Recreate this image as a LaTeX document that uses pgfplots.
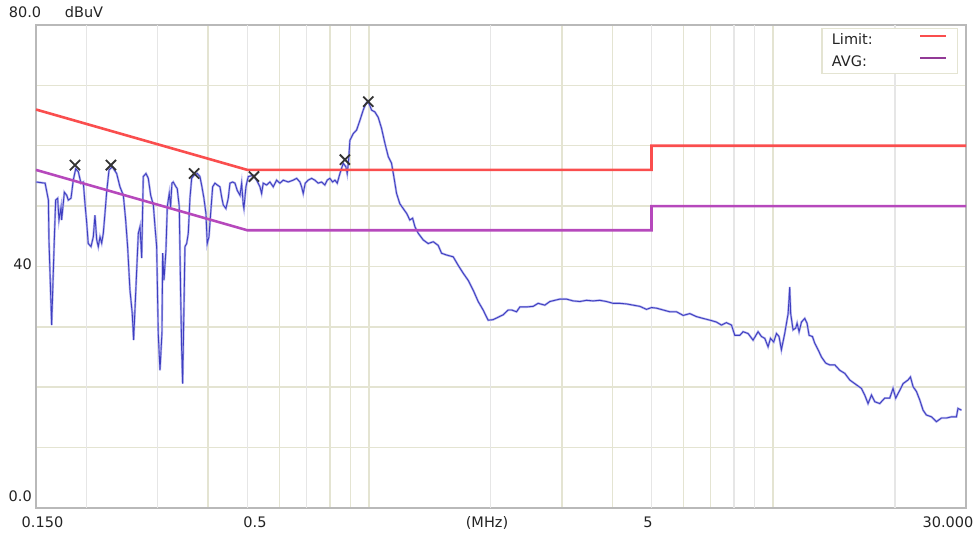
\documentclass[border=0pt]{standalone}
\usepackage{pgfplots}
\pgfplotsset{compat=1.18}
\usepackage{pgfplotstable}
\usepackage{fontspec}
\setmainfont{DejaVu Sans}

\definecolor{gridbeige}{RGB}{228,228,210}
\definecolor{gridgray}{RGB}{230,230,230}
\definecolor{framegray}{RGB}{185,185,185}
\definecolor{tracecol}{RGB}{62,62,192}
\definecolor{tracehalo}{RGB}{180,180,238}
\definecolor{limitred}{RGB}{250,78,78}
\definecolor{avgpurple}{RGB}{182,72,188}
\definecolor{labelgray}{RGB}{35,35,35}

% conducted emission scan: frequency (MHz), level (dBuV)
\pgfplotstableread{
f dB
0.150 54.0
0.158 53.8
0.161 51.0
0.1615 44.4
0.164 30.3
0.1665 44.4
0.1678 51.0
0.1697 51.3
0.171 47.7
0.173 49.8
0.1736 47.7
0.1763 52.3
0.1787 51.8
0.1803 51.0
0.1831 51.3
0.1855 54.3
0.1881 56.2
0.1909 55.7
0.1938 53.8
0.1964 54.0
0.1983 50.4
0.2000 47.7
0.2020 43.8
0.2052 43.3
0.2079 44.9
0.2099 48.5
0.2120 44.4
0.2139 43.3
0.2160 44.9
0.2181 43.9
0.2201 45.5
0.2222 48.8
0.2244 52.4
0.2274 56.0
0.2317 56.5
0.2375 55.4
0.2420 53.2
0.2467 51.8
0.2500 47.7
0.2528 43.3
0.2562 36.1
0.2595 32.3
0.2616 27.8
0.2647 35.6
0.2687 45.5
0.2713 46.6
0.2739 41.4
0.2764 54.9
0.2807 55.4
0.2844 54.6
0.2883 51.8
0.2927 50.2
0.2955 46.6
0.2983 43.3
0.3010 28.9
0.3040 22.8
0.3074 29.0
0.3087 42.2
0.3110 37.7
0.3145 42.7
0.3169 49.9
0.3205 52.1
0.3230 49.9
0.3254 53.8
0.3278 54.0
0.3330 53.2
0.3354 52.9
0.3393 49.9
0.3420 35.5
0.3440 26.2
0.3459 20.6
0.3485 33.3
0.3505 43.3
0.3539 43.8
0.3572 45.5
0.3606 51.3
0.3641 54.6
0.3689 55.1
0.3759 55.4
0.3817 54.9
0.3861 53.2
0.3905 51.3
0.3950 48.8
0.3980 43.8
0.4018 44.9
0.4057 48.8
0.4104 53.2
0.4158 53.8
0.4213 53.5
0.4278 53.2
0.4320 51.5
0.4359 50.2
0.4426 49.6
0.4485 51.3
0.4529 53.8
0.4599 54.0
0.4660 53.8
0.4721 52.6
0.4795 51.8
0.4841 53.8
0.4885 50.2
0.4904 49.6
0.4960 53.2
0.5026 54.9
0.5171 55.1
0.5272 54.3
0.5372 53.2
0.5424 52.1
0.5474 53.8
0.5581 53.5
0.5687 54.0
0.5795 53.2
0.5907 54.3
0.6020 53.8
0.6135 54.3
0.6312 54.0
0.6494 54.3
0.6622 54.6
0.6746 54.0
0.6812 53.2
0.6875 52.1
0.6954 53.8
0.7072 54.3
0.7211 54.6
0.7347 54.3
0.7487 53.8
0.7633 54.0
0.7778 53.5
0.7881 54.3
0.8000 54.6
0.8128 54.0
0.8236 54.3
0.8345 53.8
0.8474 55.4
0.8634 57.1
0.8768 56.5
0.8833 55.4
0.8904 57.6
0.8969 60.9
0.9140 62.0
0.9318 62.6
0.9495 64.2
0.9675 65.9
0.9825 67.0
0.9940 67.4
1.015 65.9
1.034 65.6
1.054 64.7
1.074 62.9
1.095 60.4
1.116 58.2
1.137 57.1
1.152 54.9
1.170 52.1
1.192 50.4
1.215 49.6
1.239 48.8
1.262 47.7
1.282 48.0
1.299 46.6
1.324 45.5
1.362 44.4
1.401 43.8
1.442 44.1
1.483 43.5
1.512 42.2
1.556 41.9
1.616 41.6
1.662 40.2
1.710 38.9
1.760 37.7
1.810 36.1
1.863 34.2
1.916 32.8
1.972 31.1
2.029 31.2
2.087 31.6
2.148 32.0
2.210 32.8
2.253 32.8
2.318 32.5
2.362 33.3
2.454 33.3
2.548 33.4
2.621 33.9
2.723 33.6
2.802 34.2
2.883 34.4
2.966 34.6
3.082 34.6
3.200 34.3
3.324 34.2
3.453 34.4
3.585 34.3
3.725 34.4
3.870 34.2
4.018 33.9
4.174 33.9
4.337 33.8
4.503 33.6
4.679 33.4
4.859 32.9
5.000 33.2
5.145 33.1
5.342 32.8
5.550 32.5
5.765 32.5
5.990 31.9
6.220 32.2
6.461 31.7
6.709 31.4
6.987 31.1
7.239 30.8
7.449 30.3
7.664 30.7
7.886 30.3
8.037 28.6
8.269 28.6
8.426 29.2
8.669 28.9
8.918 27.8
9.176 29.2
9.355 28.4
9.533 28.1
9.714 26.7
9.848 28.1
10.03 27.5
10.19 28.9
10.34 28.4
10.48 26.2
10.68 28.9
10.89 32.2
10.99 36.6
11.05 32.2
11.20 29.5
11.37 29.8
11.46 30.6
11.59 29.2
11.75 30.8
11.97 31.4
12.13 30.6
12.27 28.6
12.51 28.4
12.67 27.3
12.92 26.2
13.17 25.0
13.49 24.0
13.80 23.7
14.21 23.7
14.62 22.8
15.04 22.3
15.47 21.2
16.07 20.4
16.54 19.8
16.85 18.7
17.17 17.3
17.51 18.7
17.84 17.6
18.35 17.3
18.88 18.2
19.43 18.2
19.80 19.8
20.10 18.2
20.57 19.5
20.96 20.6
21.56 21.2
21.86 21.7
22.19 20.1
22.62 19.3
23.05 17.9
23.49 16.2
23.94 15.4
24.64 15.1
25.35 14.3
26.08 14.9
26.83 14.9
27.61 15.1
28.41 15.1
28.66 16.5
29.23 16.2
}\trace

% detected peaks
\pgfplotstableread{
f dB
0.1873 56.8
0.2299 56.8
0.3692 55.4
0.5192 54.9
0.8717 57.7
0.9960 67.3
}\peaks

\begin{document}
\begin{tikzpicture}[font=\fontsize{14.5pt}{16pt}\selectfont, text=labelgray]
\path[use as bounding box] (-36pt,-27pt) rectangle (942pt,508pt);
\begin{axis}[
  scale only axis, width=930pt, height=483pt,
  at={(0pt,0pt)}, anchor=south west,
  xmode=log, xmin=0.15, xmax=30, ymin=0, ymax=80,
  xtick={0.4,0.6,0.8,0.9,1,3,4,6,7,10},
  extra x ticks={0.2,0.3,0.5,0.7,2,5,8,9,20},
  extra x tick style={major grid style={draw=gridgray, line width=1.5pt}},
  xticklabels={}, extra x tick labels={},
  ytick={0,10,...,80}, yticklabels={},
  major tick length=0pt,
  grid=major,
  major grid style={draw=gridbeige, line width=1.5pt},
  axis line style={draw=framegray, line width=2.5pt},
  legend plot pos=right,
  legend cell align=left,
  legend image code/.code={\draw[#1, line width=2.5pt] (0pt,4pt) -- (26pt,4pt);},
  legend style={at={(0.9914,0.9938)}, anchor=north east, draw=gridbeige,
    line width=1.2pt, fill=white, inner xsep=10pt, inner ysep=5pt,
    row sep=10pt, column sep=7pt, nodes={inner sep=0pt},
    font=\fontsize{14.5pt}{16pt}\selectfont},
]
\addplot[tracehalo, line width=2.2pt, forget plot] table[x=f, y=dB]{\trace};
\addplot[tracecol, line width=0.9pt, forget plot] table[x=f, y=dB]{\trace};
\addplot[limitred, line width=2.6pt] coordinates {(0.15,66) (0.5,56) (5,56) (5,60) (30,60)};
\addlegendentry{\makebox[80pt][l]{Limit:}}
\addplot[avgpurple, line width=2.6pt, legend image post style={draw=avgpurple!80!black, line width=1.6pt}]
  coordinates {(0.15,56) (0.5,46) (5,46) (5,50) (30,50)};
\addlegendentry{\makebox[80pt][l]{AVG:}}
\addplot[only marks, mark=x, mark size=7.2pt, mark options={draw=black!80, line width=1.8pt}, forget plot]
  table[x=f, y=dB]{\peaks};
\end{axis}
\begin{scope}[every node/.style={inner sep=0pt}]
\node[anchor=base] at (-11pt,490pt) {80.0};
\node[anchor=base] at (48pt,490pt) {dBuV};
\node[anchor=base east] at (-4pt,238pt) {40};
\node[anchor=base east] at (-4pt,6pt) {0.0};
\node[anchor=base] at (6.5pt,-20pt) {0.150};
\node[anchor=base] at (219pt,-20pt) {0.5};
\node[anchor=base] at (451pt,-20pt) {(MHz)};
\node[anchor=base] at (612pt,-20pt) {5};
\node[anchor=base] at (912pt,-20pt) {30.000};
\end{scope}
\end{tikzpicture}
\end{document}
